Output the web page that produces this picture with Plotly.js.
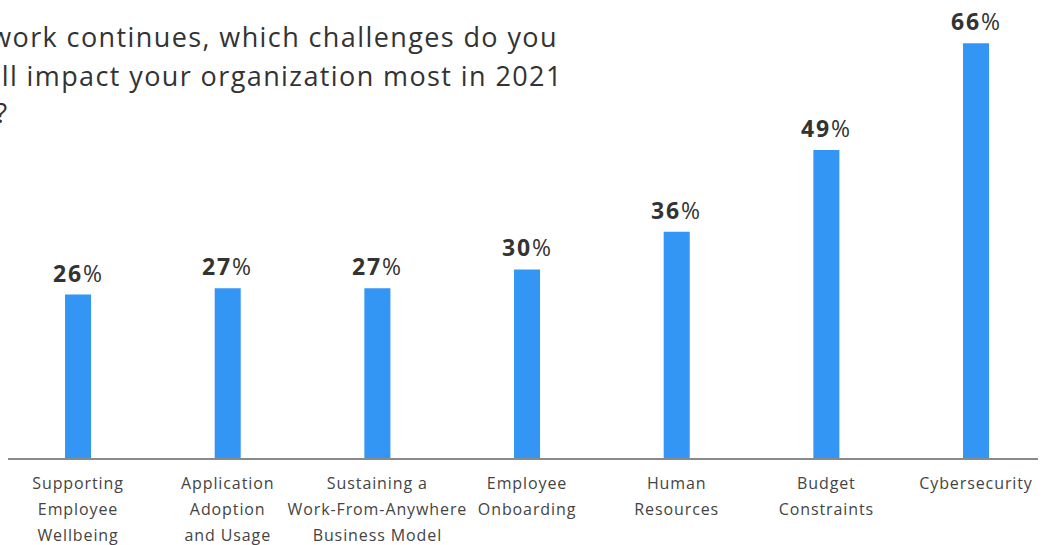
<!DOCTYPE html>
<html>
<head>
<meta charset="utf-8">
<script src="https://cdn.plot.ly/plotly-3.0.1.min.js"></script>
<style>html,body{margin:0;padding:0;background:#fff;}#chart{width:1042px;height:545px;}</style>
</head>
<body>
<div id="chart"></div>
<script>
const categories = [
  "Supporting<br>Employee<br>Wellbeing",
  "Application<br>Adoption<br>and Usage",
  "Sustaining a<br>Work-From-Anywhere<br>Business Model",
  "Employee<br>Onboarding",
  "Human<br>Resources",
  "Budget<br>Constraints",
  "Cybersecurity"
];
const values = [26, 27, 27, 30, 36, 49, 66];
const titleLines = [
  "As remote work continues, which challenges do you",
  "think will impact your organization most in 2021",
  "and beyond?"
];

const FONT = "'Open Sans', Lato, sans-serif";
const tickText = categories.map(c => c.split("<br>").map(l => '<span style="font-size:16px;letter-spacing:0.9px">' + l + '</span>').join("<br>"));

const trace = {
  type: "bar",
  x: categories,
  y: values,
  marker: {color: "#3396f4"},
  cliponaxis: false,
  hoverinfo: "skip"
};

const valueLabels = categories.map((c, i) => ({
  x: c,
  y: values[i],
  xref: "x",
  yref: "y",
  text: '<span style="letter-spacing:1.8px"><b>' + values[i] + '</b>%</span>',
  showarrow: false,
  xanchor: "center",
  yanchor: "bottom",
  yshift: 4,
  font: {family: FONT, size: 23, color: "#333333"}
}));

const titleFont = {family: FONT, size: 27, color: "#333333"};
const ts = t => '<span style="letter-spacing:1.4px">' + t + '</span>';

const layout = {
  width: 1042,
  height: 545,
  margin: {l: 8, r: 4, t: 18, b: 87},
  paper_bgcolor: "#ffffff",
  plot_bgcolor: "#ffffff",
  showlegend: false,
  bargap: 0.826,
  font: {family: FONT, color: "#444444"},
  xaxis: {
    type: "category",
    range: [-0.468, 6.414],
    tickvals: categories,
    ticktext: tickText,
    tickfont: {family: FONT, size: 20, color: "#444444"},
    ticklabelstandoff: 5,
    showline: true,
    linecolor: "#8a8a8a",
    linewidth: 2,
    ticks: "",
    showgrid: false,
    zeroline: false,
    fixedrange: true
  },
  yaxis: {
    range: [0, 70],
    visible: false,
    showgrid: false,
    zeroline: false,
    fixedrange: true
  },
  annotations: valueLabels.concat([
    {text: ts(titleLines[0]), xref: "paper", yref: "paper", x: 0.536, y: 0.957, xanchor: "right", yanchor: "middle", showarrow: false, font: titleFont},
    {text: ts(titleLines[1]), xref: "paper", yref: "paper", x: 0.5408, y: 0.870, xanchor: "right", yanchor: "middle", showarrow: false, font: titleFont},
    {text: ts(titleLines[2]), xref: "paper", yref: "paper", x: 0.003, y: 0.786, xanchor: "right", yanchor: "middle", showarrow: false, font: titleFont}
  ])
};

Plotly.newPlot("chart", [trace], layout, {displayModeBar: false, staticPlot: true});
</script>
</body>
</html>
